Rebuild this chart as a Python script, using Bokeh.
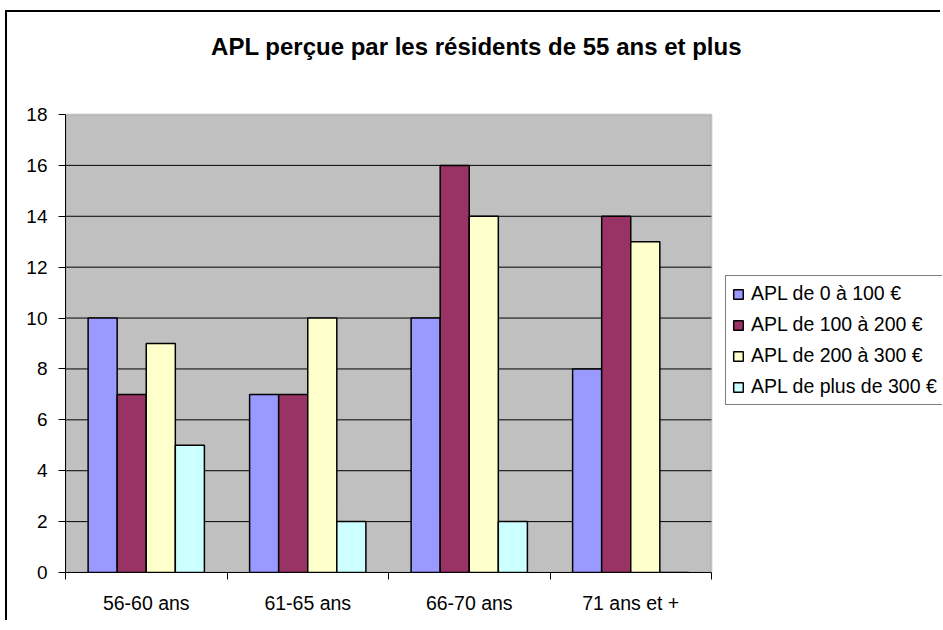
from bokeh.plotting import figure
from bokeh.models import Range1d, FixedTicker, ColumnDataSource, Legend, Label, BoxAnnotation
from bokeh.embed import file_html
from bokeh.resources import INLINE

# ---- data ----
categories = ["56-60 ans", "61-65 ans", "66-70 ans", "71 ans et +"]
series_names = ["APL de 0 à 100 €", "APL de 100 à 200 €", "APL de 200 à 300 €", "APL de plus de 300 €"]
apl_0_100 = [10, 7, 10, 8]
apl_100_200 = [7, 7, 16, 14]
apl_200_300 = [9, 10, 14, 13]
apl_300_plus = [5, 2, 2, 0]
y_ticks = [0, 2, 4, 6, 8, 10, 12, 14, 16, 18]
title_text = "APL perçue par les résidents de 55 ans et plus"

series_values = [apl_0_100, apl_100_200, apl_200_300, apl_300_plus]
colors = ["#9999FF", "#993366", "#FFFFCC", "#CCFFFF"]

FONT = "Liberation Sans"
W, H = 935, 610
FL, FB = 58, 560          # frame left / bottom in canvas px (frame reaches top and right edge)
PLOT_W, PLOT_H = 646, 458  # size of the grey plot area in px
n_cat = len(categories)
y_max = y_ticks[-1]
x_end = n_cat * (W - FL) / PLOT_W
y_end = y_max * FB / PLOT_H

p = figure(width=W, height=H, output_backend="svg", toolbar_location=None,
           x_range=Range1d(0, x_end), y_range=Range1d(0, y_end),
           min_border_left=FL, min_border_right=0,
           min_border_top=0, min_border_bottom=H - FB)
p.background_fill_color = "white"
p.border_fill_color = "white"
p.outline_line_color = None
# outer chart border (left / top edges visible, the rest lies outside the window)
p.styles = {"margin-left": "5px", "margin-top": "10px",
            "border-left": "2px solid #000000", "border-top": "2px solid #000000"}

# grey plot area
p.add_layout(BoxAnnotation(left=0, right=n_cat, bottom=0, top=y_max, level="image",
                           fill_color="#C0C0C0", fill_alpha=1, line_color=None))

# horizontal gridlines limited to the plot area
grid_y = y_ticks[1:-1]
p.segment(x0=[0] * len(grid_y), x1=[n_cat] * len(grid_y), y0=grid_y, y1=grid_y,
          line_color="black", line_width=1, level="underlay")

bar_w = 0.18
n = len(series_values)
items = []
for k, (name, vals, col) in enumerate(zip(series_names, series_values, colors)):
    xs = [i + 0.5 + (k - (n - 1) / 2) * bar_w for i in range(n_cat)]
    src = ColumnDataSource(dict(x=xs, top=vals))
    r = p.vbar(x="x", top="top", width=bar_w, bottom=0, source=src,
               fill_color=col, line_color="black", line_width=1.5)
    items.append((name, [r]))

# x axis: labels at category centres, ticks at boundaries
centers = [i + 0.5 for i in range(n_cat)]
bounds = [float(i) for i in range(n_cat + 1)]
xa = p.xaxis[0]
xa.bounds = (0, n_cat)
xa.ticker = FixedTicker(ticks=centers, minor_ticks=bounds)
xa.major_label_overrides = {c: lab for c, lab in zip(centers, categories)}
xa.major_tick_out = 0
xa.major_tick_in = 0
xa.minor_tick_out = 7
xa.minor_tick_in = 0
xa.minor_tick_line_color = "black"
xa.axis_line_color = "black"
xa.major_label_text_font = FONT
xa.major_label_text_font_size = "19.5px"
xa.major_label_text_color = "black"
xa.major_label_standoff = 12

ya = p.yaxis[0]
ya.bounds = (0, y_max)
ya.ticker = FixedTicker(ticks=y_ticks, minor_ticks=[])
ya.major_tick_out = 7
ya.major_tick_in = 0
ya.major_tick_line_color = "black"
ya.axis_line_color = "black"
ya.major_label_text_font = FONT
ya.major_label_text_font_size = "19px"
ya.major_label_text_color = "black"
ya.major_label_standoff = 11

p.xgrid.visible = False
p.ygrid.visible = False

# grey border of the plot area
p.add_layout(BoxAnnotation(left=0, right=n_cat, bottom=0, top=y_max, level="underlay",
                           fill_alpha=0, line_color="#808080", line_width=2))

# legend
lg = Legend(items=items, location=(660, 167))
lg.margin = 0
lg.padding = 6
lg.spacing = 8
lg.glyph_width = 12
lg.glyph_height = 12
lg.label_standoff = 7
lg.label_text_font = FONT
lg.label_text_font_size = "19.5px"
lg.label_text_color = "black"
lg.border_line_color = "black"
lg.border_line_width = 1
lg.background_fill_color = "white"
lg.background_fill_alpha = 1
p.add_layout(lg, "center")

# title (centred over the whole chart)
p.add_layout(Label(x=n_cat * (476 - 65) / PLOT_W, y=y_max * (572 - 46) / PLOT_H,
                   text=title_text, text_font=FONT, text_font_size="24px",
                   text_font_style="bold", text_align="center", text_baseline="middle",
                   text_color="black"))

open("out.html", "w").write(file_html(p, INLINE))
